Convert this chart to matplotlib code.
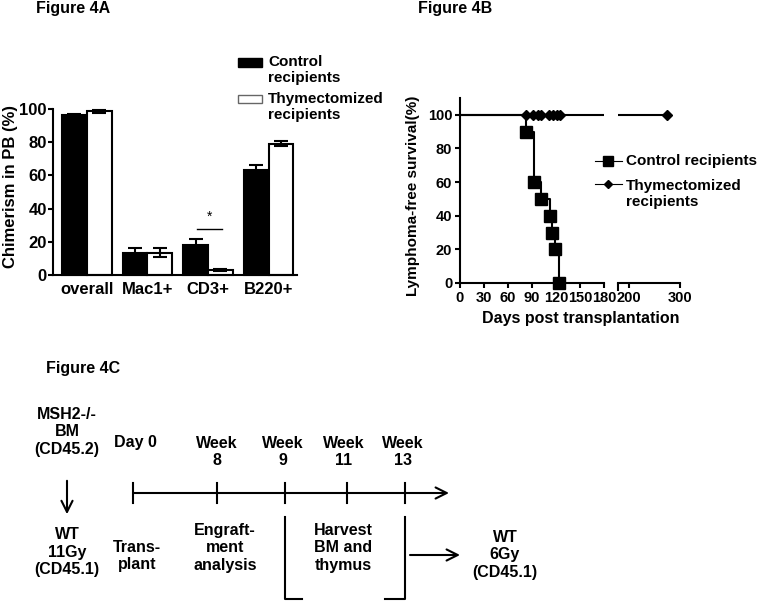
import numpy as np
import matplotlib.pyplot as plt
from matplotlib.patches import Rectangle

plt.rcParams['font.family'] = ['Liberation Sans', 'DejaVu Sans']
plt.rcParams['font.weight'] = 'bold'

# --------------------------------------------------------------------------
# Data
# --------------------------------------------------------------------------
# Figure 4A: chimerism in peripheral blood (%)
categories = ["overall", "Mac1+", "CD3+", "B220+"]
control_mean = [96.5, 13.5, 18, 63]
control_err = [0.5, 2.5, 3.5, 3]
thymect_mean = [98.5, 13.5, 3, 79]
thymect_err = [1, 2.5, 0.7, 1.5]
sig_pair = (1.82, 2.23)
sig_height = 28

# Figure 4B: lymphoma-free survival (%)
control_event_days = [82, 92, 101, 112, 115, 119, 124]
control_survival = [90, 60, 50, 40, 30, 20, 0]
thymect_censor_days = [82, 91, 97, 101, 111, 116, 121, 125, 274]
left_ticks = [0, 30, 60, 90, 120, 150, 180]
right_ticks = [200, 300]
surv_ticks = [0, 20, 40, 60, 80, 100]

# Figure 4C: timeline
timeline_labels = ["Day 0", "Week\n8", "Week\n9", "Week\n11", "Week\n13"]

W, H = 760, 604
fig = plt.figure(figsize=(W / 100, H / 100), dpi=100)


def px_axes(left, top, right, bottom):
    ax = fig.add_axes([left / W, 1 - bottom / H,
                       (right - left) / W, (bottom - top) / H])
    ax.patch.set_visible(False)
    return ax


# overlay in pixel units for labels and the diagram
ov = fig.add_axes([0, 0, 1, 1])
ov.set_xlim(0, W)
ov.set_ylim(H, 0)
ov.axis("off")
ov.patch.set_visible(False)
ov.set_zorder(10)

# --------------------------------------------------------------------------
# Figure 4A
# --------------------------------------------------------------------------
axA = px_axes(53, 109, 297, 275)
x = np.arange(len(categories))
bw = 0.41
axA.bar(x - bw / 2, control_mean, bw, color="black", edgecolor="black",
        linewidth=1.5, clip_on=False)
axA.bar(x + bw / 2, thymect_mean, bw, color="white", edgecolor="black",
        linewidth=1.5, clip_on=False)
axA.errorbar(x - bw / 2, control_mean, yerr=control_err, fmt="none",
             ecolor="black", elinewidth=1.5, capsize=5, capthick=1.5,
             clip_on=False)
axA.errorbar(x + bw / 2, thymect_mean, yerr=thymect_err, fmt="none",
             ecolor="black", elinewidth=1.5, capsize=5, capthick=1.5,
             clip_on=False)
axA.plot(sig_pair, [sig_height, sig_height], color="black", lw=1)
axA.text(np.mean(sig_pair), sig_height + 3, "*", ha="center", va="bottom",
         fontsize=10, fontweight="normal")
axA.set_xlim(-0.56, 3.47)
axA.set_ylim(0, 100)
axA.set_yticks([0, 20, 40, 60, 80, 100])
axA.set_xticks(x)
axA.set_xticklabels(categories)
axA.tick_params(axis="x", length=0, pad=5, labelsize=12)
axA.tick_params(axis="y", length=3.5, width=1.5, pad=1, labelsize=12)
for s in ["top", "right"]:
    axA.spines[s].set_visible(False)
for s in ["left", "bottom"]:
    axA.spines[s].set_linewidth(1.5)
ov.text(11, 187, "Chimerism in PB (%)", rotation=90, ha="center",
        va="center", fontsize=12)

# legend A
ov.add_patch(Rectangle((238, 58), 24, 9, facecolor="black",
                       edgecolor="black", lw=1))
ov.text(268, 70, "Control\nrecipients", ha="left", va="center", fontsize=11)
ov.add_patch(Rectangle((238, 95), 24, 8, facecolor="white",
                       edgecolor="#666666", lw=1))
ov.text(268, 107, "Thymectomized\nrecipients", ha="left", va="center",
        fontsize=11)

ov.text(36, 8, "Figure 4A", ha="left", va="center", fontsize=11.5)

# --------------------------------------------------------------------------
# Figure 4B
# --------------------------------------------------------------------------
axL = px_axes(460, 98, 604, 283)
axR = px_axes(618, 98, 680, 283)

km_t = [0] + control_event_days
km_s = [100] + control_survival
cens = np.array(thymect_censor_days)
follow = [0, max(thymect_censor_days)]

for ax, lim in [(axL, (0, 180)), (axR, (179, 300))]:
    ax.plot(follow, [100, 100], color="black", lw=1.5)
    ax.step(km_t, km_s, where="post", color="black", lw=1.5)
    sel = (cens >= lim[0]) & (cens <= lim[1])
    ax.plot(cens[sel], np.full(sel.sum(), 100), "D", color="black",
            markersize=5, clip_on=False)
    ev = np.array(control_event_days)
    sel2 = (ev >= lim[0]) & (ev <= lim[1])
    ax.plot(ev[sel2], np.array(control_survival)[sel2], "s", color="black",
            markersize=8, clip_on=False, zorder=5)
    ax.set_xlim(*lim)
    ax.set_ylim(0, 110)
    ax.spines["top"].set_visible(False)
    ax.spines["right"].set_visible(False)
    ax.spines["bottom"].set_linewidth(1.5)
    ax.spines["left"].set_linewidth(1.5)
    ax.tick_params(length=3.5, width=1.5, pad=2, labelsize=10.5)

axL.set_xticks(left_ticks)
axL.set_yticks(surv_ticks)
axR.set_xticks(right_ticks)
axR.set_xticks([179], minor=True)
axR.tick_params(which="minor", length=6, width=1.5)
axR.spines["left"].set_visible(False)
axR.set_yticks([])

ov.text(413, 196, "Lymphoma-free survival(%)", rotation=90, ha="center",
        va="center", fontsize=11)
ov.text(581, 318, "Days post transplantation", ha="center", va="center",
        fontsize=11.5)

# legend B
ov.plot([595, 622], [161, 161], color="black", lw=0.8)
ov.plot([608], [161], "s", color="black", markersize=7)
ov.text(626, 161, "Control recipients", ha="left", va="center", fontsize=11)
ov.plot([595, 622], [184, 184], color="black", lw=0.8)
ov.plot([608], [184], "D", color="black", markersize=4.5)
ov.text(626, 194, "Thymectomized\nrecipients", ha="left", va="center",
        fontsize=11)

ov.text(418, 8, "Figure 4B", ha="left", va="center", fontsize=11.5)

# --------------------------------------------------------------------------
# Figure 4C (schematic)
# --------------------------------------------------------------------------
fs = 11.5
ov.text(46, 368, "Figure 4C", ha="left", va="center", fontsize=11.5)

ov.text(67, 432, "MSH2-/-\nBM\n(CD45.2)", ha="center", va="center",
        fontsize=fs)
ov.annotate("", xy=(67, 517), xytext=(67, 478),
            arrowprops=dict(arrowstyle="->", lw=1.5, mutation_scale=20,
                            color="black"))
ov.text(67, 552, "WT\n11Gy\n(CD45.1)", ha="center", va="center",
        fontsize=fs)

tick_px = [133, 217, 285, 347, 405]
label_px = [135, 217, 283, 344, 403]
tl_y = 493
ov.annotate("", xy=(449, tl_y), xytext=(133, tl_y),
            arrowprops=dict(arrowstyle="->", lw=1.5, mutation_scale=20,
                            color="black", shrinkA=0, shrinkB=0))
for tp, lp, lab in zip(tick_px, label_px, timeline_labels):
    ov.plot([tp, tp], [483, 503], color="black", lw=1.5)
    if "\n" in lab:
        ov.text(lp, 452, lab, ha="center", va="center", fontsize=fs)
    else:
        ov.text(lp, 443, lab, ha="center", va="center", fontsize=fs)

ov.text(137, 556, "Trans-\nplant", ha="center", va="center", fontsize=fs)
ov.text(225, 548, "Engraft-\nment\nanalysis", ha="center", va="center",
        fontsize=fs)
ov.text(343, 548, "Harvest\nBM and\nthymus", ha="center", va="center",
        fontsize=fs)

ov.plot([285, 285, 302], [517, 599, 599], color="black", lw=1.5)
ov.plot([385, 405, 405], [599, 599, 517], color="black", lw=1.5)
ov.annotate("", xy=(460, 555), xytext=(410, 555),
            arrowprops=dict(arrowstyle="->", lw=1.5, mutation_scale=20,
                            color="black", shrinkA=0, shrinkB=0))
ov.text(505, 555, "WT\n6Gy\n(CD45.1)", ha="center", va="center", fontsize=fs)

fig.savefig("out.png", dpi=100)
